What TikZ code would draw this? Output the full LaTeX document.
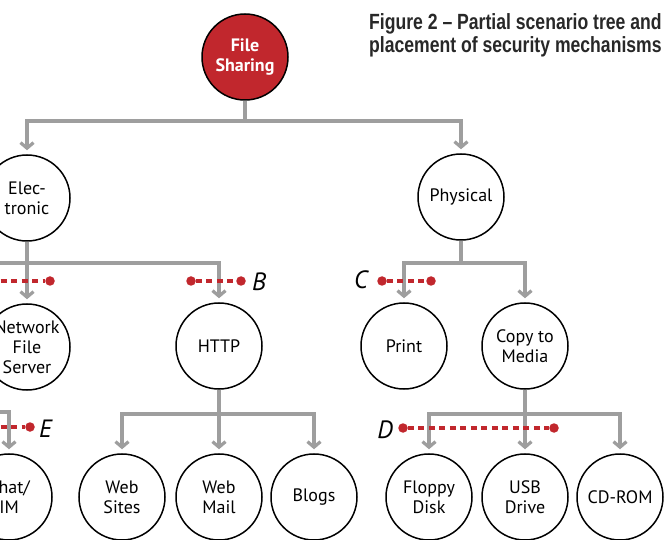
\documentclass[tikz,border=0pt]{standalone}
\usepackage{fontspec}
\setmainfont{PT Sans}
\newfontfamily\titlefont[FakeStretch=0.80]{Liberation Sans}
\usetikzlibrary{arrows.meta}
\definecolor{fsred}{RGB}{193,39,45}
\definecolor{conn}{RGB}{158,158,158}
\definecolor{titlegray}{RGB}{40,40,40}
\begin{document}
\begin{tikzpicture}[x=1pt,y=-1pt,
  circ/.style={circle, draw=black, line width=1.5pt, minimum size=86pt, inner sep=0pt,
    align=center, fill=white, font=\fontsize{18}{20}\selectfont},
  rootcirc/.style={circ, fill=fsred, text=white, font=\bfseries\fontsize{18}{19.5}\selectfont},
  link/.style={draw=conn, line width=3.6pt, shorten >=4pt,
    -{Straight Barb[length=5.5pt,width=13pt,line width=3.2pt]}},
  plainlink/.style={draw=conn, line width=3.6pt},
  reddot/.style={circle, fill=fsred, inner sep=0pt, minimum size=9.5pt},
  reddash/.style={draw=fsred, line width=3.2pt, dash pattern=on 6pt off 4.5pt},
  letter/.style={font=\itshape\fontsize{25}{25}\selectfont, inner sep=0pt},
]
\useasboundingbox[fill=white] (0,0) rectangle (670,540);

% title
\node[anchor=north west, align=left, inner sep=0pt, text=titlegray,
      font=\titlefont\bfseries\fontsize{22}{23}\selectfont] (title) at (369,13)
  {Figure 2 – Partial scenario tree and\\placement of security mechanisms};

% nodes
\node[rootcirc] (fs) at (245,57) {File\\Sharing};
\node[circ] (elec) at (27,198) {Elec-\\tronic};
\node[circ] (phys) at (461,197) {Physical};
\node[circ] (nfs) at (27,347) {Network\\File\\Server};
\node[circ] (http) at (219,346) {HTTP};
\node[circ] (print) at (404,346) {Print};
\node[circ] (copy) at (525,346) {Copy to\\Media};
\node[circ] (chat) at (9,497) {Chat/\\IM};
\node[circ] (websites) at (122,497) {Web\\Sites};
\node[circ] (webmail) at (219,497) {Web\\Mail};
\node[circ] (blogs) at (314,497) {Blogs};
\node[circ] (floppy) at (429,497) {Floppy\\Disk};
\node[circ] (usb) at (525,497) {USB\\Drive};
\node[circ] (cdrom) at (620,497) {CD-ROM};

% off-picture ends
\coordinate (elecleft) at (-20,262);
\coordinate (chatsrc) at (-20,412);

% connectors
\draw[link] (fs.south) -- ++(0,20) -| (elec.north);
\draw[link] (fs.south) -- ++(0,20) -| (phys.north);
\draw[plainlink] (elec.south) -- ++(0,21) -| (elecleft);
\draw[link] (elec.south) -- ++(0,21) -| (nfs.north);
\draw[link] (elec.south) -- ++(0,21) -| (http.north);
\draw[link] (phys.south) -- ++(0,22) -| (print.north);
\draw[link] (phys.south) -- ++(0,22) -| (copy.north);
\draw[link] (chatsrc) -| (chat.north);
\draw[link] (http.south) -- ++(0,24) -| (websites.north);
\draw[link] (http.south) -- ++(0,24) -| (webmail.north);
\draw[link] (http.south) -- ++(0,24) -| (blogs.north);
\draw[link] (copy.south) -- ++(0,24) -| (floppy.north);
\draw[link] (copy.south) -- ++(0,24) -| (usb.north);
\draw[link] (copy.south) -- ++(0,24) -| (cdrom.north);

% security mechanisms
\coordinate (a1) at (-10,281);
\node[reddot] (a2) at (50,281) {};
\draw[reddash] (a1) -- (a2);

\node[reddot] (b1) at (191,281) {};
\node[reddot] (b2) at (241,281) {};
\draw[reddash] (b1) -- (b2);
\node[letter, anchor=west] (blab) at (252,282) {B};

\node[reddot] (c1) at (382,281) {};
\node[reddot] (c2) at (431,281) {};
\draw[reddash] (c1) -- (c2);
\node[letter, anchor=east] (clab) at (368,280) {C};

\node[reddot] (d1) at (403,428) {};
\node[reddot] (d2) at (554,428) {};
\draw[reddash] (d1) -- (d2);
\node[letter, anchor=east] (dlab) at (393,430) {D};

\coordinate (e1) at (-10,427);
\node[reddot] (e2) at (30,427) {};
\draw[reddash] (e1) -- (e2);
\node[letter, anchor=west] (elab) at (39,429) {E};
\end{tikzpicture}
\end{document}
